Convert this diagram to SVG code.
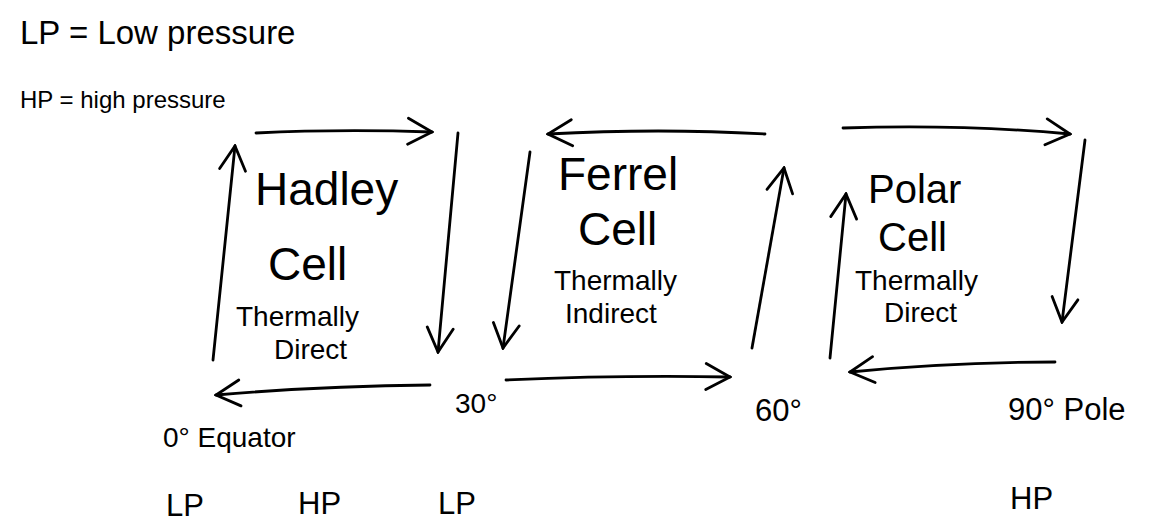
<svg xmlns="http://www.w3.org/2000/svg" width="1169" height="523" viewBox="0 0 1169 523">
<style>
text{font-family:"Liberation Sans","DejaVu Sans",sans-serif;fill:#000}
.t{font-size:46px}
.p{font-size:40px}
.s{font-size:28px}
.l{font-size:31px}
.c{fill:none;stroke:#000;stroke-width:2.8;stroke-linecap:round;marker-end:url(#ah)}
</style>
<defs>
<marker id="ah" viewBox="0 0 30 30" markerWidth="30" markerHeight="30" refX="28" refY="15" orient="auto" markerUnits="userSpaceOnUse">
<path d="M4,2 L28,15 L4,28" fill="none" stroke="#000" stroke-width="2.8" stroke-linecap="round"/>
</marker>
</defs>
<rect width="1169" height="523" fill="#fff"/>
<g id="legend">
<text x="20" y="44" style="font-size:33px">LP = Low pressure</text>
<text x="20" y="108" style="font-size:24px">HP = high pressure</text>
</g>
<g id="connectors">
<path class="c" d="M256,133 Q340,129 432,132"/>
<path class="c" d="M458,133 L438,352"/>
<path class="c" d="M430,385 Q320,386 216,395"/>
<path class="c" d="M213,360 L235,146"/>
<path class="c" d="M765,134 Q660,128 548,134"/>
<path class="c" d="M530,152 L503,348"/>
<path class="c" d="M506,380 Q620,375 730,377"/>
<path class="c" d="M752,348 L784,168"/>
<path class="c" d="M843,128 Q960,124 1070,134"/>
<path class="c" d="M1085,140 L1062,322"/>
<path class="c" d="M1055,362 Q950,362 850,372"/>
<path class="c" d="M830,358 L846,194"/>
</g>
<g id="hadley">
<text x="255" y="205" class="t">Hadley</text>
<text x="268" y="280" class="t">Cell</text>
<text x="236" y="326" class="s">Thermally</text>
<text x="274" y="359" class="s">Direct</text>
</g>
<g id="ferrel">
<text x="558" y="190" class="t">Ferrel</text>
<text x="578" y="245" class="t">Cell</text>
<text x="554" y="290" class="s">Thermally</text>
<text x="565" y="323" class="s">Indirect</text>
</g>
<g id="polar">
<text x="868" y="203" class="p">Polar</text>
<text x="878" y="251" class="p">Cell</text>
<text x="855" y="290" class="s">Thermally</text>
<text x="884" y="322" class="s">Direct</text>
</g>
<g id="latitudes">
<text x="455" y="413" class="s">30°</text>
<text x="755" y="421" class="l">60°</text>
<text x="1008" y="420" class="l">90° Pole</text>
<text x="163" y="447" class="s">0° Equator</text>
</g>
<g id="pressure">
<text x="166" y="516" class="l">LP</text>
<text x="298" y="514" class="l">HP</text>
<text x="438" y="514" class="l">LP</text>
<text x="1010" y="509" class="l">HP</text>
</g>
</svg>
